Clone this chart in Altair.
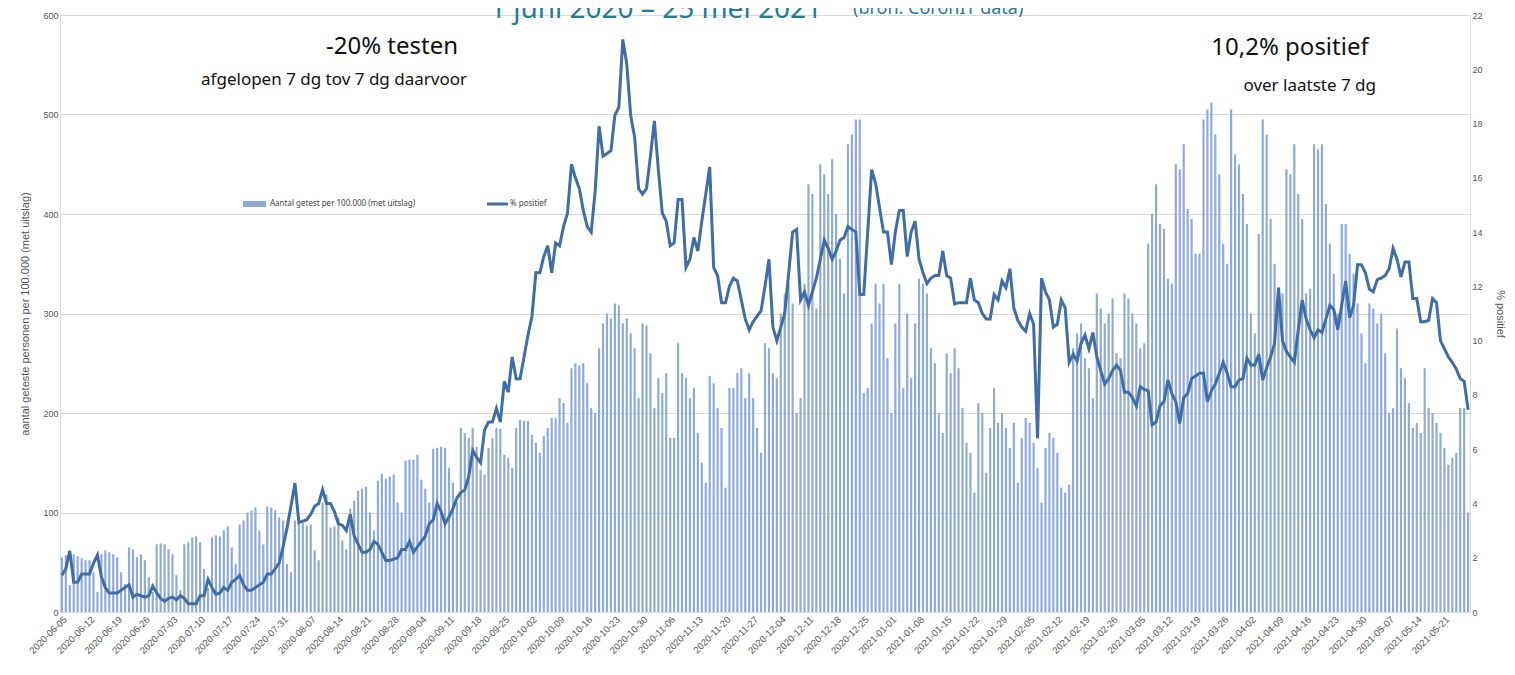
import altair as alt
import pandas as pd

# % positief, daily from 2020-06-05
pct_jun = [1.35,1.6,2.25,1.1,1.1,1.4,1.4,1.4,1.8,2.1,1.3,0.9,0.7,0.7,0.7,0.8,0.9,1.0,0.55,0.65,0.6,0.55,0.6,0.95,0.7,0.5]
pct_jul = [0.4,0.5,0.55,0.45,0.6,0.5,0.3,0.3,0.3,0.6,0.6,1.2,0.9,0.65,0.7,0.9,0.8,1.1,1.2,1.35,1.0,0.8,0.8,0.9,1.0,1.1,1.4,1.4,1.6,1.8,2.4]
pct_aug = [3.1,3.9,4.75,3.3,3.35,3.4,3.6,3.9,4.0,4.5,4.0,4.0,3.7,3.25,3.2,3.0,3.6,2.8,2.5,2.2,2.2,2.3,2.6,2.5,2.2,1.9,1.9,1.95,2.0,2.3,2.3]
pct_sep = [2.6,2.2,2.4,2.6,2.8,3.25,3.4,4.0,3.7,3.25,3.5,3.8,4.2,4.4,4.5,5.0,5.95,5.7,5.5,6.7,7.0,7.0,7.5,7.0,8.5,8.1,9.4,8.6,8.6,9.4]
pct_oct = [10.2,10.9,12.5,12.5,13.1,13.5,12.5,13.6,13.5,14.2,14.7,16.5,16.0,15.6,14.8,14.2,14.0,15.5,17.9,16.8,16.9,17.0,18.3,18.6,21.1,20.2,18.3,17.5,15.6,15.4,15.6]
pct_nov = [16.8,18.1,16.3,14.7,14.4,13.5,13.6,15.2,15.2,12.7,13.0,13.8,13.3,14.4,15.4,16.4,12.7,12.4,11.4,11.4,12.0,12.3,12.2,11.5,10.8,10.4,10.7,10.9,11.1,12.0]
pct_dec = [13.0,10.5,10.0,10.5,11.0,12.5,14.0,14.1,11.5,11.8,11.3,11.8,12.3,13.0,13.7,13.4,13.0,13.3,13.7,13.8,14.2,14.1,14.0,11.7,11.7,14.0,16.3,15.8,14.9,14.0,14.0]
pct_jan = [12.8,14.0,14.8,14.8,13.1,14.0,14.4,13.0,12.5,12.1,12.3,12.4,12.4,13.3,12.4,12.3,11.35,11.4,11.4,11.4,12.3,11.5,11.4,11.0,10.8,10.8,11.7,11.5,12.2,11.95,12.65]
pct_feb = [11.2,10.75,10.5,10.35,11.0,10.6,6.4,12.3,11.8,11.5,10.5,10.6,11.5,11.2,9.2,9.5,9.25,9.9,10.2,9.7,10.3,9.4,8.9,8.4,8.6,8.9,9.1,8.9]
pct_mar = [8.1,8.1,7.9,7.6,8.3,8.2,8.15,6.9,7.0,7.6,7.75,8.55,8.05,7.75,6.95,7.9,8.05,8.6,8.7,8.8,8.8,7.75,8.15,8.4,8.8,9.2,8.8,8.3,8.3,8.55,8.6]
pct_apr = [9.35,9.1,9.1,9.5,8.55,9.0,9.4,9.9,11.95,10.0,9.6,9.4,9.2,10.4,11.5,10.8,10.4,10.1,10.4,10.3,10.8,11.3,11.15,10.4,11.3,12.2,10.85,11.3,12.8,12.8]
pct_may = [12.5,11.9,11.8,12.25,12.3,12.4,12.65,13.4,13.0,12.35,12.9,12.9,11.55,11.55,10.7,10.7,10.75,11.55,11.4,10.0,9.7,9.4,9.2,8.95,8.6,8.5,7.45]

# Aantal getest per 100.000, weeks Fri..Thu starting 2020-06-05
tests_weeks = [
    [55,57,27,58,56,54,52],[52,40,20,58,62,60,58],[55,40,28,65,63,55,58],[52,35,20,68,69,68,63],
    [58,37,22,68,70,75,76],[70,43,24,75,77,76,82],[86,65,48,88,92,100,102],[105,82,68,106,105,102,95],
    [92,48,40,92,90,90,87],[88,62,52,110,118,85,86],[95,72,63,104,112,122,124],[126,100,82,132,139,134,136],
    [138,110,100,152,153,153,158],[133,124,110,164,165,166,165],[145,130,110,185,180,175,185],[166,143,138,165,175,185,184],
    [158,155,145,185,193,192,192],[178,170,160,177,185,195,195],[215,210,190,245,250,248,250],[230,205,200,265,290,300,295],
    [310,308,290,295,280,265,215],[290,288,260,205,235,220,240],[175,175,270,240,235,215,225],[180,150,130,237,230,205,185],
    [125,225,225,240,245,215,240],[215,185,160,270,265,240,235],[300,320,330,310,200,215,330],[430,420,305,450,440,420,455],
    [400,355,320,470,480,495,495],[220,225,290,330,310,330,255],[200,290,330,225,300,235,290],[335,330,320,265,250,200,180],
    [260,240,265,245,205,170,160],[120,210,200,140,185,225,190],[200,185,165,190,130,175,195],[190,170,145,110,165,180,175],
    [160,125,120,128,265,280,290],[255,245,215,320,305,290,300],[315,260,255,320,315,300,290],[265,270,370,400,430,390,385],
    [335,330,450,445,470,405,395],[360,360,495,505,512,480,440],[370,350,505,460,450,420,390],[300,280,380,495,480,395,350],
    [318,320,445,440,470,420,395],[320,325,470,465,470,410,370],[340,300,390,390,360,340,310],[280,250,310,305,290,300,260],
    [200,205,285,245,235,210,185],[190,180,245,205,200,190,180],[165,148,155,160,205,205,100],
]

pct = pct_jun+pct_jul+pct_aug+pct_sep+pct_oct+pct_nov+pct_dec+pct_jan+pct_feb+pct_mar+pct_apr+pct_may
tests = [v for w in tests_weeks for v in w]
dates = [d.strftime("%Y-%m-%d") for d in pd.date_range("2020-06-05", periods=len(pct), freq="D")]
df = pd.DataFrame({"datum": dates, "getest": tests, "pct": pct})
label_dates = dates[::7]

W, H = 1410, 597
BAR = "#8eaad8"
LINE = "#3f6ea6"
FONT = "Liberation Sans"

xenc = alt.X("datum:O", sort=None, title=None,
             scale=alt.Scale(paddingInner=0.45, paddingOuter=0.2),
             axis=alt.Axis(values=label_dates, labelAngle=-45, labelFontSize=9.5, labelColor="#555",
                           ticks=False, domain=False, grid=False, labelFont=FONT))

bars = alt.Chart(df).mark_bar(color=BAR).encode(
    x=xenc,
    y=alt.Y("getest:Q", scale=alt.Scale(domain=[0, 600]),
            axis=alt.Axis(values=[0,100,200,300,400,500,600], title="aantal geteste personen per 100.000 (met uitslag)",
                          titleFontSize=11, titleFontWeight="normal", titleColor="#555", labelFontSize=9,
                          labelColor="#555", grid=True, gridColor="#d9d9d9", domain=False, ticks=False,
                          titlePadding=12, labelFont=FONT, titleFont=FONT)),
)
line = alt.Chart(df).mark_line(color=LINE, strokeWidth=3).encode(
    x=xenc,
    y=alt.Y("pct:Q", scale=alt.Scale(domain=[0, 22]),
            axis=alt.Axis(orient="right", values=list(range(0, 23, 2)), title="% positief", titleFontSize=11,
                          titleFontWeight="normal", titleColor="#555", labelFontSize=9, labelColor="#555",
                          grid=False, domain=False, ticks=False, titlePadding=12,
                          labelFont=FONT, titleFont=FONT)),
)

def txt(s, x, y, size, align="center", color="#111"):
    return alt.Chart(pd.DataFrame({"t": [s]})).mark_text(
        fontSize=size, align=align, baseline="middle", color=color, font="Noto Sans"
    ).encode(text="t:N", x=alt.value(x), y=alt.value(y))

legend = [
    alt.Chart(pd.DataFrame({"a": [0]})).mark_rect(color=BAR).encode(
        x=alt.value(183), x2=alt.value(206), y=alt.value(186), y2=alt.value(192)),
    txt("Aantal getest per 100.000 (met uitslag)", 210, 189, 8, "left", "#444"),
    alt.Chart(pd.DataFrame({"a": [0]})).mark_rule(color=LINE, strokeWidth=3).encode(
        x=alt.value(427), x2=alt.value(448), y=alt.value(189), y2=alt.value(189)),
    txt("% positief", 450, 189, 8, "left", "#444"),
]
annots = [
    txt("-20% testen", 332, 32, 24),
    txt("afgelopen 7 dg tov 7 dg daarvoor", 407, 65, 17, "right"),
    txt("10,2% positief", 1230, 33, 24),
    txt("over laatste 7 dg", 1316, 71, 17, "right"),
    alt.Chart(pd.DataFrame({"t": ["1 juni 2020 \u2013 25 mei 2021"]})).mark_text(
        fontSize=28, align="right", color="#1f7b9e", font="Noto Sans").encode(
        text="t:N", x=alt.value(762), y=alt.value(-5)),
    alt.Chart(pd.DataFrame({"t": ["(bron: CoronIT data)"]})).mark_text(
        fontSize=18, align="left", color="#1f7b9e", font="Noto Sans").encode(
        text="t:N", x=alt.value(793), y=alt.value(-6)),
]

chart = alt.layer(bars, line, *legend, *annots).resolve_scale(y="independent").properties(
    width=W, height=H, autosize=alt.AutoSizeParams(type="none"),
    padding={"left": 52, "top": 7, "right": 37, "bottom": 52}
).configure_view(stroke=None).configure_axis(domain=False).configure(background="white")

chart.save("out.html", embed_options={"renderer": "svg", "actions": False})
